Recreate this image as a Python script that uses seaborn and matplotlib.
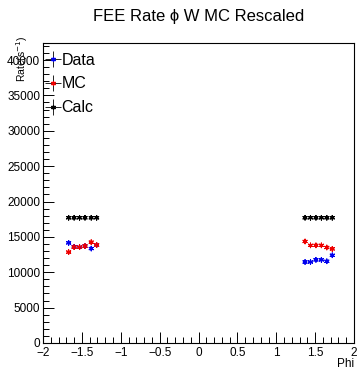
import numpy as np
import pandas as pd
import matplotlib
matplotlib.use("Agg")
import matplotlib.pyplot as plt
import seaborn as sns
from matplotlib.lines import Line2D
from matplotlib.ticker import MultipleLocator, FuncFormatter

sns.set_style("white")
plt.rcParams['font.family'] = ['Liberation Sans', 'DejaVu Sans']
plt.rcParams['text.color'] = 'black'
plt.rcParams['xtick.color'] = 'black'
plt.rcParams['ytick.color'] = 'black'

phi = [-1.67, -1.60, -1.53, -1.46, -1.38, -1.31, 1.37, 1.44, 1.51, 1.58, 1.65, 1.72]
data_rate = [14150, 13600, 13550, 13700, 13350, 13850, 11450, 11450, 11750, 11750, 11550, 12400]
mc_rate = [12850, 13550, 13550, 13700, 14250, 13850, 14350, 13800, 13800, 13800, 13500, 13300]
calc_rate = [17700] * 12

series = ["Data", "MC", "Calc"]
colors = {"Data": "#0000ee", "MC": "#ee0000", "Calc": "#000000"}

df = pd.concat([
    pd.DataFrame({"Phi": phi, "Rate": data_rate, "series": "Data"}),
    pd.DataFrame({"Phi": phi, "Rate": mc_rate, "series": "MC"}),
    pd.DataFrame({"Phi": phi, "Rate": calc_rate, "series": "Calc"}),
])

fig = plt.figure(figsize=(3.62, 3.71), dpi=100)
ax = fig.add_axes([0.1188, 0.0755, 0.978 - 0.1188, 0.884 - 0.0755])

star = (6, 2, 0)
for s in series:
    sub = df[df.series == s]
    ax.errorbar(sub.Phi, sub.Rate, yerr=110, fmt='none', ecolor=colors[s], elinewidth=0.5, alpha=0.6)
sns.scatterplot(data=df, x="Phi", y="Rate", hue="series", palette=colors, marker=star,
                s=11, linewidth=0.8, edgecolor=None, ax=ax, legend=False)

ax.set_xlim(-2, 2)
ax.set_ylim(0, 42400)
ax.xaxis.set_major_locator(MultipleLocator(0.5))
ax.xaxis.set_minor_locator(MultipleLocator(0.1))
ax.yaxis.set_major_locator(MultipleLocator(5000))
ax.yaxis.set_minor_locator(MultipleLocator(1000))

def fmt(v, pos):
    s = ('%g' % v)
    return s.replace('-', '\u2212')
ax.xaxis.set_major_formatter(FuncFormatter(fmt))
ax.yaxis.set_major_formatter(FuncFormatter(lambda v, p: '%d' % v))

ax.tick_params(axis='both', which='major', direction='in', length=8, width=0.7, labelsize=8.5,
               bottom=True, left=True, top=False, right=False, pad=2, color='black', labelcolor='black')
ax.tick_params(axis='both', which='minor', direction='in', length=4, width=0.7,
               bottom=True, left=True, top=False, right=False, color='black')
ax.tick_params(axis='x', pad=3)
for sp in ax.spines.values():
    sp.set_linewidth(0.8)
    sp.set_color('black')

ax.set_xlabel("")
ax.set_ylabel("")
fig.text(0.978, 0.002, "Phi", ha='right', va='bottom', fontsize=8.5)
fig.text(0.038, 1 - 36 / 371, "Rate(s$^{-1}$)", ha='left', va='top', rotation=90, fontsize=7.5)
fig.text(0.55, 0.955, "FEE Rate \u03d5 W MC Rescaled", ha='center', va='center', fontsize=12)

handles = []
for s in series:
    h1 = Line2D([], [], color='black', marker='+', markersize=12, markeredgewidth=0.6, linestyle='none')
    h2 = Line2D([], [], color=colors[s], marker=star, markersize=3.5, markeredgewidth=0.9, linestyle='none')
    handles.append((h1, h2))
leg = ax.legend(handles, series, loc='upper left', bbox_to_anchor=(-0.02, 1.0), frameon=False,
                fontsize=11.5, handlelength=0.8, handletextpad=0.15, labelspacing=0.55, borderaxespad=0.2)

fig.savefig("out.png", dpi=100)
